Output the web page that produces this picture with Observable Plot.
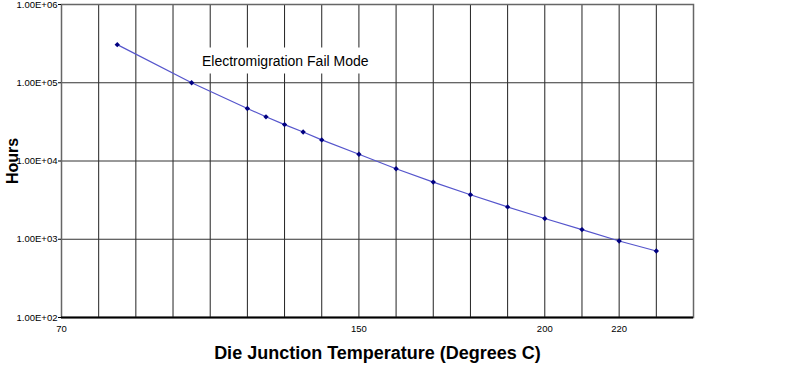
<!DOCTYPE html>
<html>
<head>
<meta charset="utf-8">
<script src="https://cdn.jsdelivr.net/npm/d3@7"></script>
<script src="https://cdn.jsdelivr.net/npm/@observablehq/plot@0.6"></script>
<style>
  html, body { margin: 0; padding: 0; background: white; }
  g[aria-label="tip"], g[aria-label="tip"] * { filter: none !important; }
</style>
</head>
<body>
<div id="chart"></div>
<script>
// Data
const temps = [85, 105, 120, 125, 130, 135, 140, 150, 160, 170, 180, 190, 200, 210, 220, 230];
const hours = [307000, 100000, 46900, 36700, 29200, 23500, 18600, 12200, 7960, 5380, 3700, 2590, 1840, 1330, 950, 708];

const yTicks = [1e2, 1e3, 1e4, 1e5, 1e6];
const yTickLabels = ["1.00E+02", "1.00E+03", "1.00E+04", "1.00E+05", "1.00E+06"];
const yGridValues = [1e3, 1e4, 1e5];
const xTicks = [70, 150, 200, 220];
const xGridValues = [80, 90, 100, 110, 120, 130, 140, 150, 160, 170, 180, 190, 200, 210, 220, 230];

const annotationText = ["Electromigration Fail Mode"];
const annotationTemp = [130.3];
const annotationHours = [285000];

const xTitle = "Die Junction Temperature (Degrees C)";
const yTitle = "Hours";

const points = temps.map((t, i) => ({temp: t, hours: hours[i]}));
const annotations = annotationText.map((t, i) => ({text: t, temp: annotationTemp[i], hours: annotationHours[i]}));
const font = "'Liberation Sans', Arial, sans-serif";

const chart = Plot.plot({
  width: 805,
  height: 372,
  marginLeft: 61,
  marginRight: 112,
  marginTop: 4,
  marginBottom: 55,
  style: {background: "white", fontFamily: font, color: "black"},
  x: {type: "linear", domain: [70, 240]},
  y: {type: "log", domain: [100, 1e6]},
  marks: [
    Plot.gridX(xGridValues, {stroke: "#222", strokeOpacity: 1, strokeWidth: 1}),
    Plot.gridY(yGridValues, {stroke: "#333", strokeOpacity: 1, strokeWidth: 1}),
    Plot.frame({stroke: "#666", strokeWidth: 1.5}),
    Plot.ruleY([100], {stroke: "black", strokeWidth: 2}),
    Plot.axisY({
      ticks: yTicks,
      tickFormat: (d) => yTickLabels[yTicks.indexOf(d)],
      tickSize: 3,
      tickPadding: 1,
      fontSize: 9.5,
      label: null
    }),
    Plot.axisX({
      ticks: xTicks,
      tickFormat: (d) => String(d),
      tickSize: 0,
      tickPadding: 8,
      fontSize: 9.5,
      label: null
    }),
    Plot.tip(annotations, {
      x: "temp",
      y: "hours",
      title: "text",
      anchor: "top",
      pointerSize: 0,
      fill: "white",
      stroke: "none",
      fontSize: 14,
      fontFamily: font,
      textPadding: 5
    }),
    Plot.line(points, {x: "temp", y: "hours", stroke: "#5555cc", strokeWidth: 1.2}),
    Plot.dot(points, {x: "temp", y: "hours", symbol: "diamond2", r: 2.4, fill: "#000080", stroke: "none"}),
    Plot.text([yTitle], {
      frameAnchor: "left", dx: -49, rotate: -90, textAnchor: "middle",
      fontSize: 16, fontWeight: "bold", fontFamily: font, fill: "black", lineAnchor: "middle"
    }),
    Plot.text([xTitle], {
      frameAnchor: "bottom", dy: 36, textAnchor: "middle", fontSize: 18, fontWeight: "bold",
      fontFamily: font, fill: "black", lineAnchor: "middle"
    })
  ]
});
document.getElementById("chart").appendChild(chart);
</script>
</body>
</html>
